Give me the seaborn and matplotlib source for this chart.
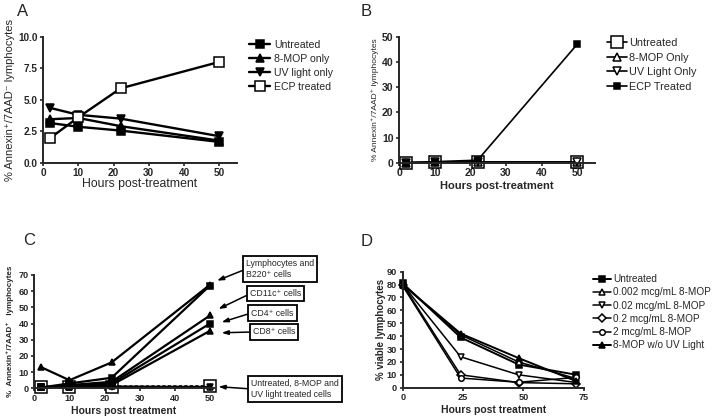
import numpy as np
import pandas as pd
import matplotlib
matplotlib.use("Agg")
import matplotlib.pyplot as plt
import seaborn as sns

# ---------------- data ----------------
hours_A = [2, 10, 22, 50]
A_untreated = [3.15, 2.85, 2.55, 1.65]
A_8mop = [3.45, 3.55, 2.9, 1.75]
A_uv = [4.35, 3.8, 3.5, 2.1]
A_ecp = [1.95, 3.6, 5.9, 8.0]
A_labels = ["Untreated", "8-MOP only", "UV light only", "ECP treated"]

hours_B = [2, 10, 22, 50]
B_untreated = [0.0, 0.2, 0.2, 0.2]
B_8mop = [0.0, 0.2, 0.3, 0.3]
B_uv = [0.0, 0.1, 0.2, 0.2]
B_ecp = [0.0, 0.4, 1.0, 47.0]
B_labels = ["Untreated", "8-MOP Only", "UV Light Only", "ECP Treated"]

hours_C = [2, 10, 22, 50]
C_lymph = [13.0, 5.0, 16.0, 64.0]
C_b220 = [0.5, 3.0, 6.5, 63.5]
C_cd11c = [0.5, 2.0, 4.0, 45.0]
C_cd4 = [0.5, 1.5, 3.0, 40.0]
C_cd8 = [0.5, 1.0, 2.0, 35.5]
C_ctrl_untreated = [0.5, 1.0, 1.0, 1.2]
C_ctrl_8mop = [0.5, 1.0, 1.2, 1.0]
C_ctrl_uv = [0.5, 0.8, 1.0, 0.8]
C_box_texts = ["Lymphocytes and\nB220\u207a cells", "CD11c\u207a cells",
               "CD4\u207a cells", "CD8\u207a cells",
               "Untreated, 8-MOP and\nUV light treated cells"]

hours_D = [0, 24, 48, 72]
D_untreated = [81, 39, 18, 10]
D_0002 = [80, 41, 20, 7]
D_002 = [80, 24, 10, 4]
D_02 = [80, 10, 4, 3]
D_2 = [79, 7.5, 4.2, 8]
D_noUV = [80, 42, 23, 5]
D_labels = ["Untreated", "0.002 mcg/mL 8-MOP", "0.02 mcg/mL 8-MOP",
            "0.2 mcg/mL 8-MOP", "2 mcg/mL 8-MOP", "8-MOP w/o UV Light"]

# ---------------- style ----------------
sns.set_style("ticks")
plt.rcParams["font.family"] = ["Liberation Sans", "DejaVu Sans"]
plt.rcParams["axes.linewidth"] = 1.4
plt.rcParams["xtick.major.width"] = 1.2
plt.rcParams["ytick.major.width"] = 1.2
plt.rcParams["xtick.major.size"] = 2.5
plt.rcParams["ytick.major.size"] = 2.5
plt.rcParams["xtick.major.pad"] = 1.5
plt.rcParams["ytick.major.pad"] = 1.5

fig = plt.figure(figsize=(7.14, 4.2), dpi=100)
W, H = 714.0, 420.0


def add_ax(left, top, right, bottom):
    return fig.add_axes([left / W, 1 - bottom / H, (right - left) / W, (bottom - top) / H])


def draw(ax, x, y, label, marker, ms, filled=True, lw=1.5, ls="-", mew=1.1):
    sns.lineplot(x=x, y=y, ax=ax, color="black", marker=marker, markersize=ms,
                 markerfacecolor="black" if filled else "white",
                 markeredgecolor="black", markeredgewidth=mew,
                 linewidth=lw, linestyle=ls, label=label, clip_on=False,
                 errorbar=None, legend=False)


def style_ticks(ax, fs):
    for lab in ax.get_xticklabels() + ax.get_yticklabels():
        lab.set_fontweight("bold")
        lab.set_fontsize(fs)
    sns.despine(ax=ax)


# ---------------- Panel A ----------------
axA = add_ax(43, 36.7, 237, 162.7)
draw(axA, hours_A, A_untreated, A_labels[0], "s", 5.2, lw=1.7)
draw(axA, hours_A, A_8mop, A_labels[1], "^", 5.5, lw=1.7)
draw(axA, hours_A, A_uv, A_labels[2], "v", 5.5, lw=1.7)
draw(axA, hours_A, A_ecp, A_labels[3], "s", 7, filled=False, lw=1.7)
axA.set_xlim(0, 55)
axA.set_ylim(0, 10)
axA.set_xticks([0, 10, 20, 30, 40, 50])
axA.set_yticks([0, 2.5, 5.0, 7.5, 10.0])
axA.set_yticklabels(["0.0", "2.5", "5.0", "7.5", "10.0"])
style_ticks(axA, 7.2)
axA.set_xlabel("Hours post-treatment", fontsize=8.8, labelpad=-0.5)
axA.set_ylabel("% Annexin\u207a/7AAD\u207b lymphocytes", fontsize=8, labelpad=2)
h, l = axA.get_legend_handles_labels()
axA.legend(h, l, loc="upper left", bbox_to_anchor=(249 / W, 1 - 39.5 / H),
           bbox_transform=fig.transFigure, frameon=False, fontsize=7.6,
           handlelength=2.0, handletextpad=0.4, labelspacing=0.38,
           borderpad=0, borderaxespad=0)
fig.text(23 / W, 1 - 11 / H, "A", fontsize=12, ha="center", va="center")

# ---------------- Panel B ----------------
axB = add_ax(399.3, 36.7, 595, 162.7)
draw(axB, hours_B, B_untreated, B_labels[0], "s", 8.5, filled=False, lw=1.2)
draw(axB, hours_B, B_8mop, B_labels[1], "^", 5.5, filled=False, lw=1.2)
draw(axB, hours_B, B_uv, B_labels[2], "v", 5.5, filled=False, lw=1.2)
draw(axB, hours_B, B_ecp, B_labels[3], "s", 5, lw=1.2)
axB.set_xlim(0, 55)
axB.set_ylim(0, 50)
axB.set_xticks([0, 10, 20, 30, 40, 50])
axB.set_yticks([0, 10, 20, 30, 40, 50])
style_ticks(axB, 7.6)
axB.set_xlabel("Hours post-treatment", fontsize=8, fontweight="bold", labelpad=2)
axB.set_ylabel("% Annexin\u207a/7AAD\u207a lymphocytes", fontsize=6, labelpad=2)
h, l = axB.get_legend_handles_labels()
axB.legend(h, l, loc="upper left", bbox_to_anchor=(607 / W, 1 - 38 / H),
           bbox_transform=fig.transFigure, frameon=False, fontsize=7.8,
           handlelength=1.8, handletextpad=0.2, labelspacing=0.42,
           borderpad=0, borderaxespad=0)
fig.text(366 / W, 1 - 12 / H, "B", fontsize=12, ha="center", va="center")

# ---------------- Panel C ----------------
axC = add_ax(34.3, 275, 213.5, 388.3)
draw(axC, hours_C, C_ctrl_untreated, None, "s", 8, filled=False, lw=1.8, ls=(0, (1.3, 0.9)))
draw(axC, hours_C, C_ctrl_8mop, None, "^", 4.5, filled=False, lw=1.2)
draw(axC, hours_C, C_ctrl_uv, None, "v", 4.5, lw=1.2)
draw(axC, hours_C, C_lymph, None, "^", 4, lw=1.6)
draw(axC, hours_C, C_b220, None, "s", 5, lw=1.6)
draw(axC, hours_C, C_cd11c, None, "^", 4, lw=1.6)
draw(axC, hours_C, C_cd4, None, "s", 5, lw=1.6)
draw(axC, hours_C, C_cd8, None, "^", 4, lw=1.6)
axC.set_xlim(0, 51)
axC.set_ylim(0, 70)
axC.set_xticks([0, 10, 20, 30, 40, 50])
axC.set_yticks([0, 10, 20, 30, 40, 50, 60, 70])
style_ticks(axC, 6.6)
axC.set_xlabel("Hours post treatment", fontsize=7.5, fontweight="bold", labelpad=2)
axC.set_ylabel("%  Annexin\u207a/7AAD\u207a   lymphocytes", fontsize=5.8,
               fontweight="bold", labelpad=3)
# annotation boxes: (text x, text y, arrow tip x, arrow tip y)
box_pos = [(60.3, 73.7, 52.0, 66.5), (61.4, 58.4, 52.4, 49.0),
           (61.7, 46.5, 53.3, 40.8), (62.2, 34.8, 53.3, 34.3),
           (61.7, -0.4, 52.4, 1.0)]
for txt, (tx, ty, ax_, ay) in zip(C_box_texts, box_pos):
    axC.annotate(txt, xy=(ax_, ay), xytext=(tx, ty), xycoords="data",
                 textcoords="data", fontsize=6.3, ha="left", va="center",
                 annotation_clip=False,
                 bbox=dict(boxstyle="square,pad=0.35", fc="white", ec="black", lw=1.3),
                 arrowprops=dict(arrowstyle="-|>,head_length=0.6,head_width=0.2",
                                 color="black", lw=1.1, relpos=(0, 0.5),
                                 shrinkA=0, shrinkB=0))
fig.text(29 / W, 1 - 241 / H, "C", fontsize=12, ha="center", va="center")

# ---------------- Panel D ----------------
axD = add_ax(402.7, 271.7, 583.7, 387.7)
draw(axD, hours_D, D_untreated, D_labels[0], "s", 5, lw=1.4)
draw(axD, hours_D, D_0002, D_labels[1], "^", 5, filled=False, lw=1.1)
draw(axD, hours_D, D_002, D_labels[2], "v", 5, filled=False, lw=1.1)
draw(axD, hours_D, D_02, D_labels[3], "D", 4, filled=False, lw=1.1)
draw(axD, hours_D, D_2, D_labels[4], "o", 4, filled=False, lw=1.1)
draw(axD, hours_D, D_noUV, D_labels[5], "^", 5, lw=1.4)
axD.set_xlim(0, 75)
axD.set_ylim(0, 90)
axD.set_xticks([0, 25, 50, 75])
axD.set_yticks(list(range(0, 91, 10)))
style_ticks(axD, 6.6)
axD.set_xlabel("Hours post treatment", fontsize=7.5, fontweight="bold", labelpad=2)
axD.set_ylabel("% viable lymphocytes", fontsize=7, fontweight="bold", labelpad=1)
h, l = axD.get_legend_handles_labels()
axD.legend(h, l, loc="upper left", bbox_to_anchor=(593 / W, 1 - 274 / H),
           bbox_transform=fig.transFigure, frameon=False, fontsize=7.2,
           handlelength=1.8, handletextpad=0.2, labelspacing=0.33,
           borderpad=0, borderaxespad=0)
fig.text(367 / W, 1 - 242 / H, "D", fontsize=12, ha="center", va="center")

fig.savefig("out.png", dpi=100)
